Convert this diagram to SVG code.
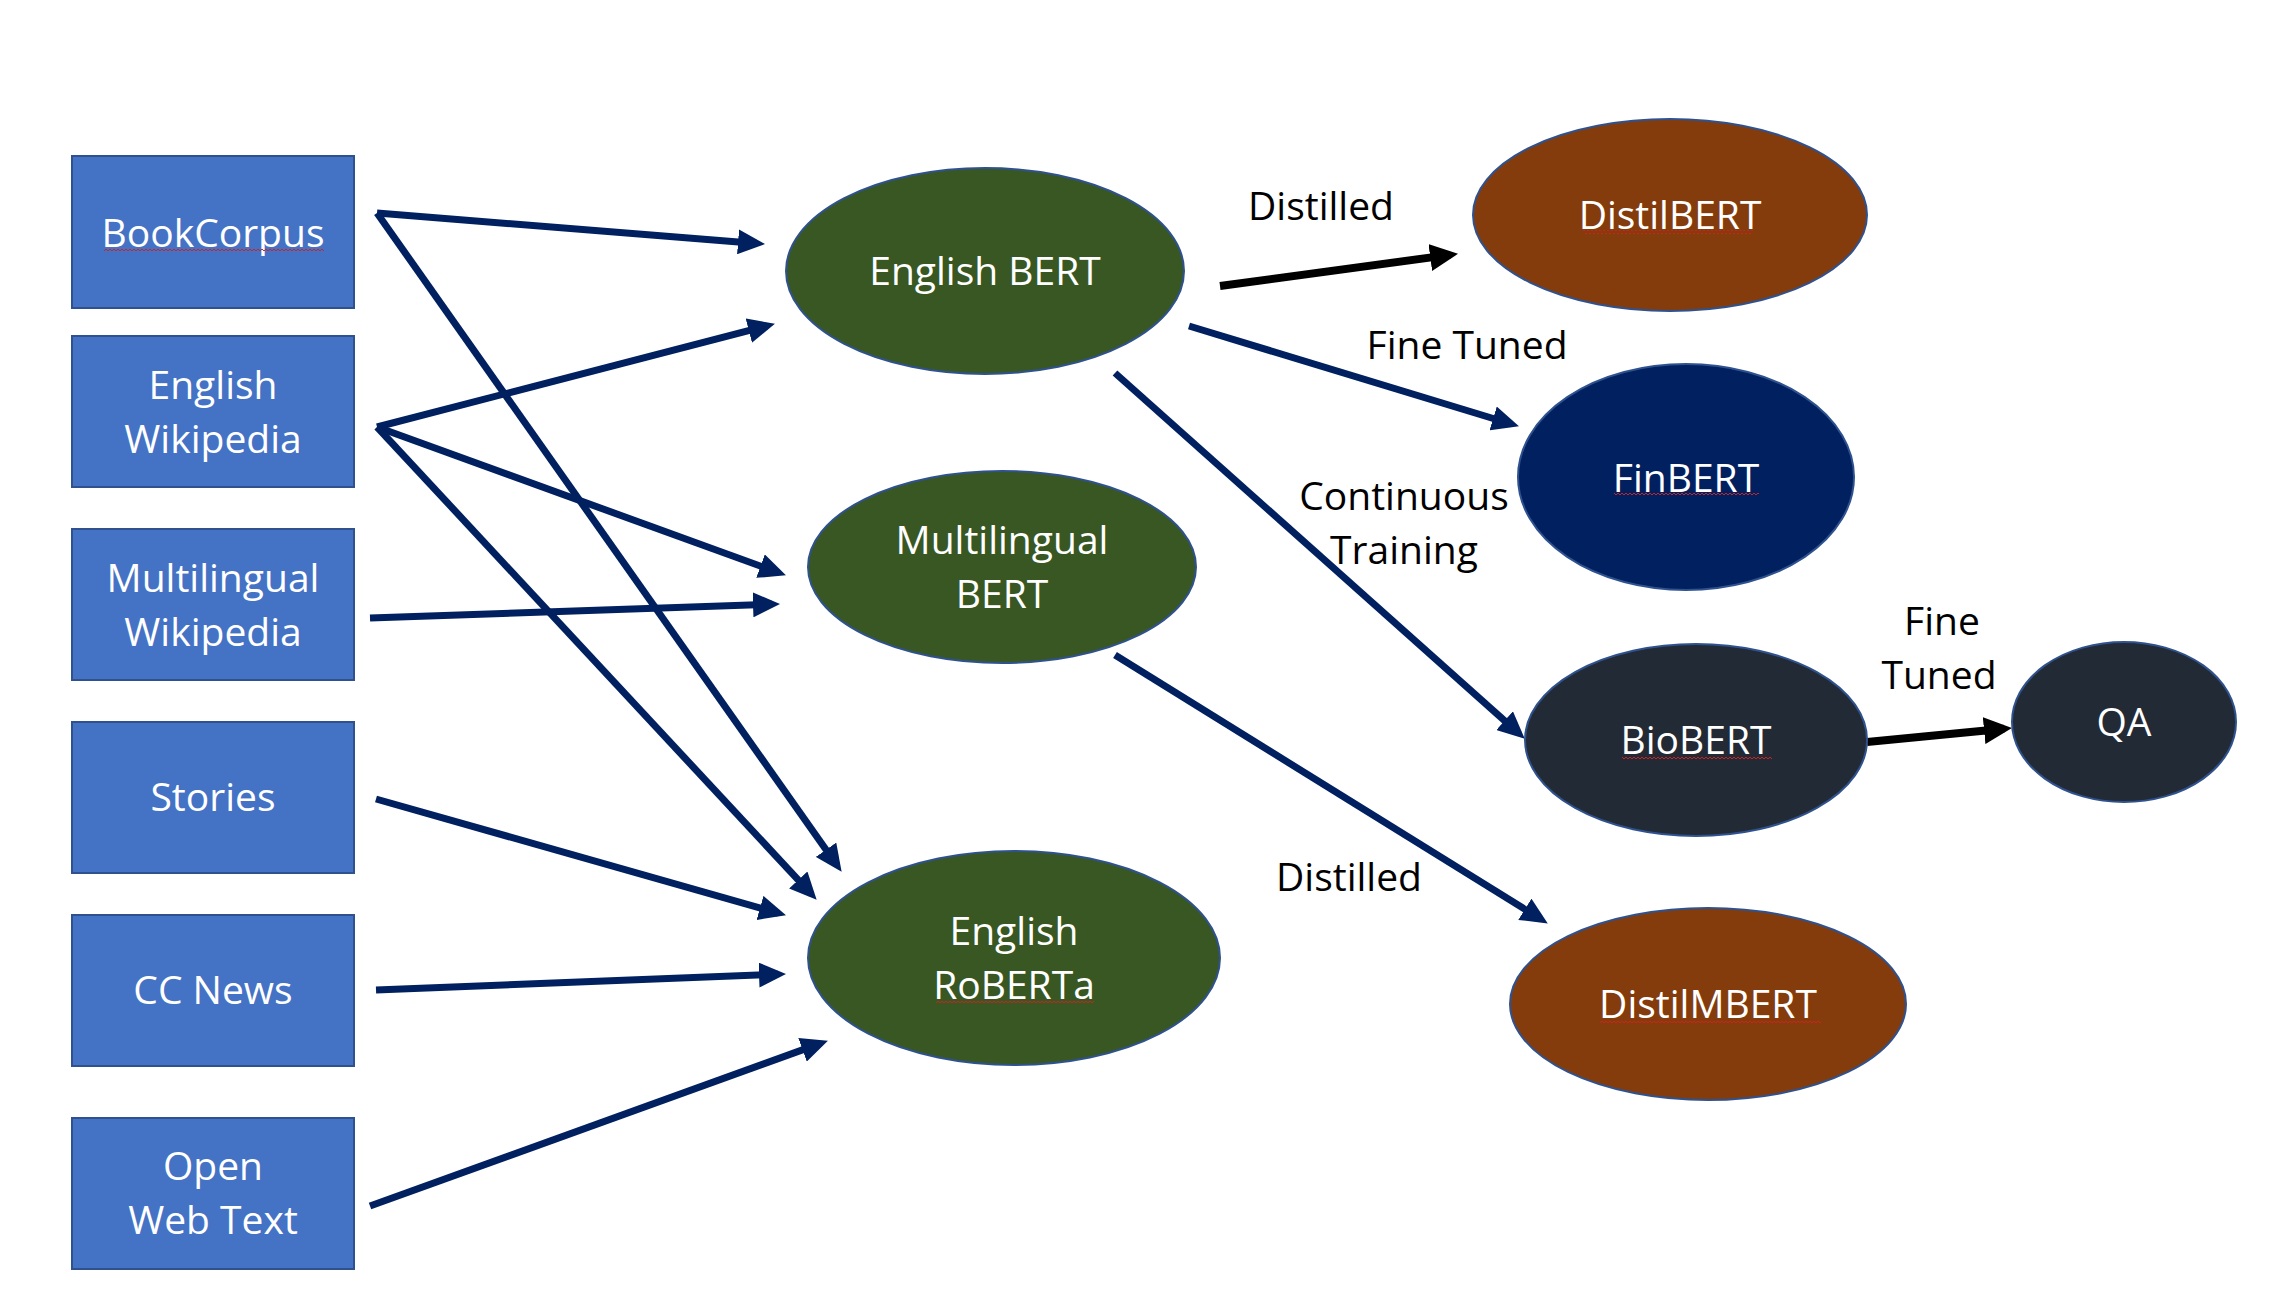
<svg xmlns="http://www.w3.org/2000/svg" width="2291" height="1301" viewBox="0 0 2291 1301">
<style>
  .box { fill: #4472C4; stroke: #2F528F; stroke-width: 2; }
  .green { fill: #385723; stroke: #2F528F; stroke-width: 2; }
  .brown { fill: #843C0C; stroke: #2F528F; stroke-width: 2; }
  .navyfill { fill: #002060; stroke: #2F528F; stroke-width: 2; }
  .dark { fill: #222A35; stroke: #2F528F; stroke-width: 2; }
  .t { font-family: "Open Sans", "Liberation Sans", sans-serif; font-size: 39px; fill: #FFFFFF; text-anchor: middle; }
  .lbl { font-family: "Open Sans", "Liberation Sans", sans-serif; font-size: 39px; fill: #000000; text-anchor: middle; }
  .edge { fill: none; stroke: #002060; stroke-width: 7; }
  .edgeb { fill: none; stroke: #000000; stroke-width: 8; }
  .sq { fill: url(#squiggle); }
</style>
<defs>
  <marker id="ahn" markerUnits="userSpaceOnUse" markerWidth="27" markerHeight="25" refX="19" refY="12.5" orient="auto">
    <path d="M0,0 L27,12.5 L0,25 z" fill="#002060"/>
  </marker>
  <marker id="ahb" markerUnits="userSpaceOnUse" markerWidth="28" markerHeight="27" refX="20" refY="13.5" orient="auto">
    <path d="M0,0 L28,13.5 L0,27 z" fill="#000000"/>
  </marker>
  <pattern id="squiggle" patternUnits="userSpaceOnUse" width="4" height="4">
    <path d="M0,3 L2,1 L4,3" fill="none" stroke="#D02020" stroke-width="1"/>
  </pattern>
</defs>
<rect x="0" y="0" width="2291" height="1301" fill="#FFFFFF"/>

<g id="connectors">
  <line class="edge" x1="377" y1="213" x2="757" y2="243.4" marker-end="url(#ahn)"/>
  <line class="edge" x1="377" y1="213" x2="837" y2="865.3" marker-end="url(#ahn)"/>
  <line class="edge" x1="377" y1="427" x2="767.2" y2="325.8" marker-end="url(#ahn)"/>
  <line class="edge" x1="377" y1="427" x2="778.4" y2="572.6" marker-end="url(#ahn)"/>
  <line class="edge" x1="377" y1="427" x2="811.2" y2="893.9" marker-end="url(#ahn)"/>
  <line class="edge" x1="370" y1="618" x2="772" y2="604.2" marker-end="url(#ahn)"/>
  <line class="edge" x1="376" y1="799" x2="778.3" y2="913.1" marker-end="url(#ahn)"/>
  <line class="edge" x1="376" y1="990" x2="778" y2="974.3" marker-end="url(#ahn)"/>
  <line class="edge" x1="370" y1="1206" x2="820.4" y2="1043.4" marker-end="url(#ahn)"/>
  <line class="edgeb" x1="1220" y1="286" x2="1450.1" y2="254.9" marker-end="url(#ahb)"/>
  <line class="edge" x1="1189" y1="326" x2="1511.3" y2="424" marker-end="url(#ahn)"/>
  <line class="edge" x1="1115" y1="373" x2="1518.8" y2="733.3" marker-end="url(#ahn)"/>
  <line class="edge" x1="1115" y1="655" x2="1541" y2="919.3" marker-end="url(#ahn)"/>
  <line class="edgeb" x1="1867" y1="742" x2="2004" y2="728.7" marker-end="url(#ahb)"/>
</g>

<g id="edge-labels">
  <text class="lbl" x="1321" y="220">Distilled</text>
  <text class="lbl" x="1467" y="359">Fine Tuned</text>
  <text class="lbl" x="1404" y="510">Continuous</text>
  <text class="lbl" x="1404" y="564">Training</text>
  <text class="lbl" x="1942" y="635">Fine</text>
  <text class="lbl" x="1939" y="689">Tuned</text>
  <text class="lbl" x="1349" y="891">Distilled</text>
</g>

<g id="bookcorpus">
  <rect class="box" x="72" y="156" width="282" height="152"/>
  <text class="t" x="213" y="247">BookCorpus</text>
  <rect class="sq" x="104" y="248" width="220" height="4"/>
</g>
<g id="english-wikipedia">
  <rect class="box" x="72" y="336" width="282" height="151"/>
  <text class="t" x="213" y="399">English</text>
  <text class="t" x="213" y="453">Wikipedia</text>
</g>
<g id="multilingual-wikipedia">
  <rect class="box" x="72" y="529" width="282" height="151"/>
  <text class="t" x="213" y="592">Multilingual</text>
  <text class="t" x="213" y="646">Wikipedia</text>
</g>
<g id="stories">
  <rect class="box" x="72" y="722" width="282" height="151"/>
  <text class="t" x="213" y="811">Stories</text>
</g>
<g id="cc-news">
  <rect class="box" x="72" y="915" width="282" height="151"/>
  <text class="t" x="213" y="1004">CC News</text>
</g>
<g id="open-web-text">
  <rect class="box" x="72" y="1118" width="282" height="151"/>
  <text class="t" x="213" y="1180">Open</text>
  <text class="t" x="213" y="1234">Web Text</text>
</g>

<g id="english-bert">
  <ellipse class="green" cx="985" cy="271" rx="199" ry="103"/>
  <text class="t" x="985" y="285">English BERT</text>
</g>
<g id="multilingual-bert">
  <ellipse class="green" cx="1002" cy="567" rx="194" ry="96"/>
  <text class="t" x="1002" y="554">Multilingual</text>
  <text class="t" x="1002" y="608">BERT</text>
</g>
<g id="english-roberta">
  <ellipse class="green" cx="1014" cy="958" rx="206" ry="107"/>
  <text class="t" x="1014" y="945">English</text>
  <text class="t" x="1014" y="999">RoBERTa</text>
  <rect class="sq" x="936" y="1000" width="158" height="4"/>
</g>
<g id="distilbert">
  <ellipse class="brown" cx="1670" cy="215" rx="197" ry="96"/>
  <text class="t" x="1670" y="229">DistilBERT</text>
  <rect class="sq" x="1583" y="230" width="170" height="4"/>
</g>
<g id="finbert">
  <ellipse class="navyfill" cx="1686" cy="477" rx="168" ry="113"/>
  <text class="t" x="1686" y="492">FinBERT</text>
  <rect class="sq" x="1614" y="493" width="145" height="4"/>
</g>
<g id="biobert">
  <ellipse class="dark" cx="1696" cy="740" rx="171" ry="96"/>
  <text class="t" x="1696" y="754">BioBERT</text>
  <rect class="sq" x="1622" y="755" width="150" height="4"/>
</g>
<g id="qa">
  <ellipse class="dark" cx="2124" cy="722" rx="112" ry="80"/>
  <text class="t" x="2124" y="736">QA</text>
</g>
<g id="distilmbert">
  <ellipse class="brown" cx="1708" cy="1004" rx="198" ry="96"/>
  <text class="t" x="1708" y="1018">DistilMBERT</text>
  <rect class="sq" x="1600" y="1019" width="221" height="4"/>
</g>
</svg>
